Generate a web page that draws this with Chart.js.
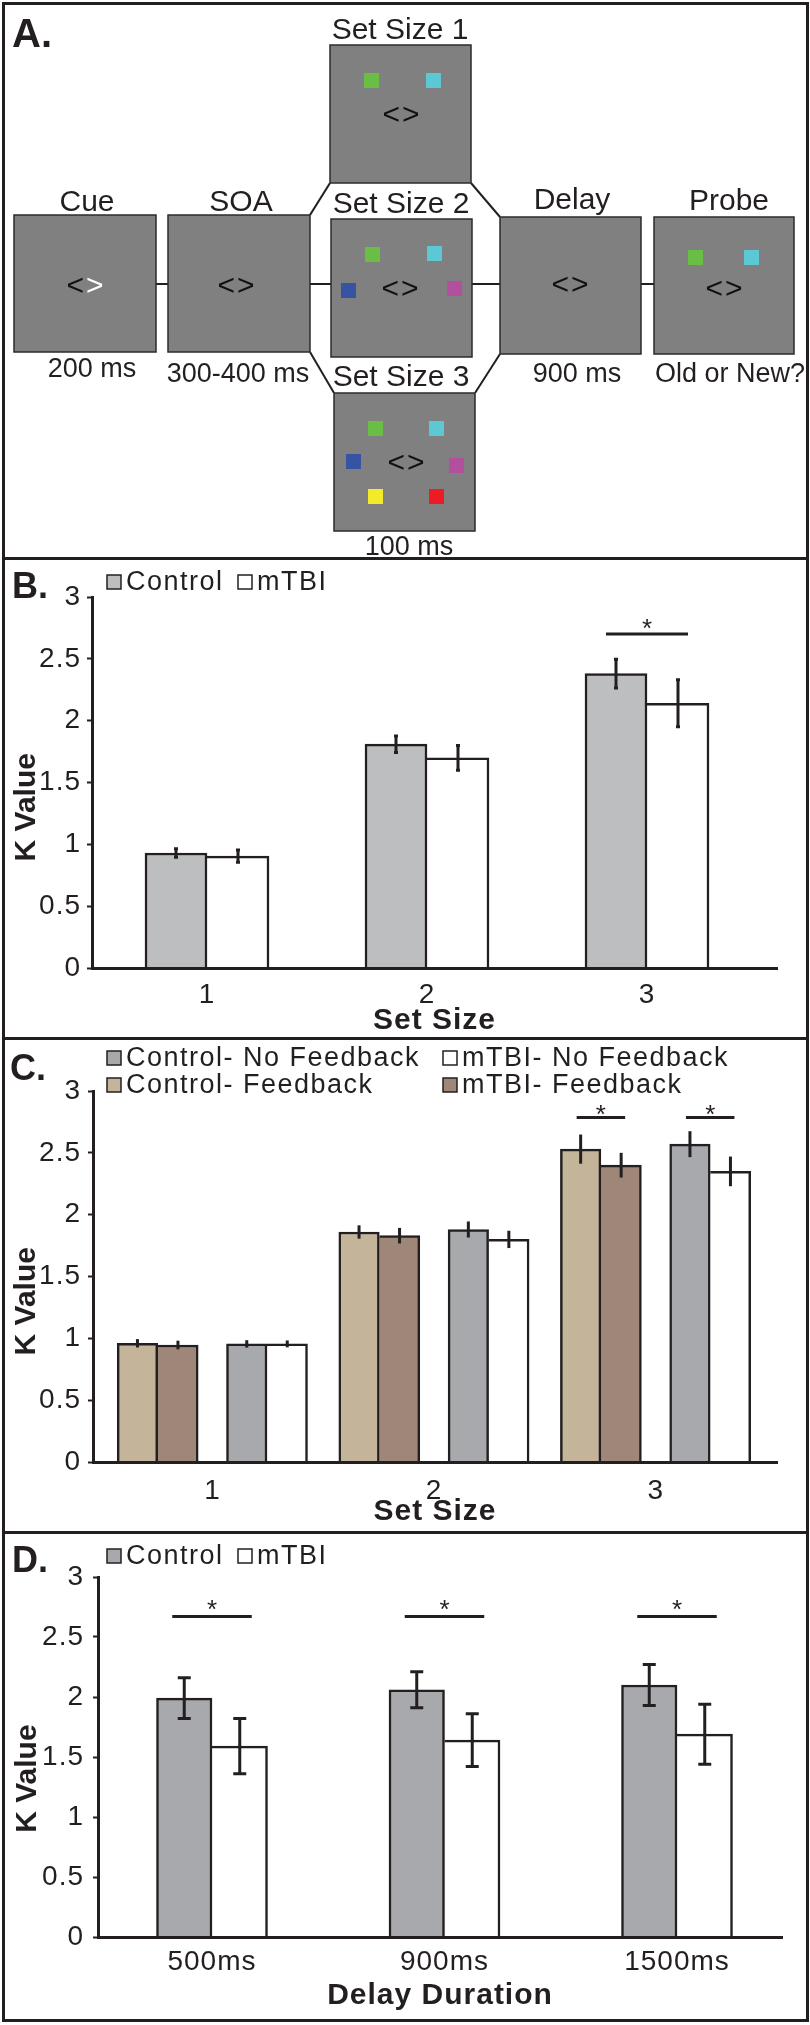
<!DOCTYPE html>
<html>
<head>
<meta charset="utf-8">
<script src="https://cdn.jsdelivr.net/npm/chart.js@4.4.1/dist/chart.umd.min.js"></script>
<style>
  html, body { margin: 0; padding: 0; background: #fff; }
  #page { position: relative; width: 810px; height: 2025px; overflow: hidden; background: #fff; }
  canvas { position: absolute; left: 0; }
  .frame { position: absolute; border: 3px solid #231f20; box-sizing: border-box; }
  .rule { position: absolute; left: 3px; width: 804px; height: 3px; background: #231f20; }
</style>
</head>
<body>
<div id="page">
  <canvas id="panelA" width="810" height="559" style="top:0"></canvas>
  <canvas id="panelB" width="810" height="480" style="top:559px"></canvas>
  <canvas id="panelC" width="810" height="494" style="top:1039px"></canvas>
  <canvas id="panelD" width="810" height="487" style="top:1533px"></canvas>
  <div class="frame" style="left:2px;top:2px;width:807px;height:2020px"></div>
  <div class="rule" style="top:557px"></div>
  <div class="rule" style="top:1037px"></div>
  <div class="rule" style="top:1531px"></div>
</div>
<script>
// ---- data ----
var setSizes = ['1', '2', '3'];
var delayLabels = ['500ms', '900ms', '1500ms'];
var kMin = 0, kMax = 3, kStep = 0.5;

// B. set size, control vs mTBI
var bControl = [0.93, 1.81, 2.38];
var bControlErr = [0.035, 0.067, 0.116];
var bMtbi = [0.905, 1.70, 2.14];
var bMtbiErr = [0.05, 0.10, 0.19];
var bSig = [{index: 2, y: 2.70, pair: [0, 1]}];

// C. set size with / without feedback
var cCtrlNoFb = [0.955, 1.88, 2.57];
var cCtrlNoFbErr = [0.03, 0.065, 0.105];
var cMtbiNoFb = [0.955, 1.80, 2.35];
var cMtbiNoFbErr = [0.028, 0.07, 0.12];
var cCtrlFb = [0.96, 1.86, 2.53];
var cCtrlFbErr = [0.034, 0.054, 0.118];
var cMtbiFb = [0.946, 1.83, 2.40];
var cMtbiFbErr = [0.035, 0.063, 0.10];
var cSig = [{index: 2, y: 2.785, pair: [2, 3]}, {index: 2, y: 2.785, pair: [0, 1]}];

// D. delay duration
var dControl = [1.99, 2.06, 2.10];
var dControlErr = [0.17, 0.15, 0.17];
var dMtbi = [1.59, 1.64, 1.69];
var dMtbiErr = [0.23, 0.22, 0.25];
var dSig = [{index: 0, y: 2.67, pair: [0, 1]}, {index: 1, y: 2.67, pair: [0, 1]}, {index: 2, y: 2.67, pair: [0, 1]}];

var ink = '#231f20';
var fam = "'Liberation Sans', Arial, sans-serif";
Chart.defaults.font.family = fam;
Chart.defaults.color = ink;

// ---- panel A: task schematic ----
function drawPanelA() {
  var ctx = document.getElementById('panelA').getContext('2d');
  ctx.strokeStyle = ink;
  ctx.lineWidth = 2;
  var segs = [[156, 284, 168, 284], [310, 284, 331, 284], [472, 284, 500, 284], [641, 284, 654, 284],
              [310, 215, 330, 183], [471, 183, 500, 217], [310, 352, 334, 393], [500, 354, 475, 393]];
  segs.forEach(function(s) {
    ctx.beginPath(); ctx.moveTo(s[0], s[1]); ctx.lineTo(s[2], s[3]); ctx.stroke();
  });

  var boxes = [[14, 215, 142, 137], [168, 215, 142, 137], [330, 45, 141, 138], [331, 219, 141, 138],
               [334, 393, 141, 138], [500, 217, 141, 137], [654, 217, 140, 137]];
  boxes.forEach(function(b) {
    ctx.fillStyle = '#808080';
    ctx.fillRect(b[0], b[1], b[2], b[3]);
    ctx.strokeStyle = '#2b2b2b';
    ctx.lineWidth = 1.5;
    ctx.strokeRect(b[0], b[1], b[2], b[3]);
  });

  var green = '#6abd45', cyan = '#5cc8d6', blue = '#3953a4', magenta = '#b24f9f', yellow = '#f3eb2a', red = '#ed1c24';
  var squares = [[364, 73, green], [426, 73, cyan],
                 [365, 247, green], [427, 246, cyan], [341, 283, blue], [447, 281, magenta],
                 [368, 421, green], [429, 421, cyan], [346, 454, blue], [449, 458, magenta], [368, 489, yellow], [429, 489, red],
                 [688, 250, green], [744, 250, cyan]];
  squares.forEach(function(s) {
    ctx.fillStyle = s[2];
    ctx.fillRect(s[0], s[1], 15, 15);
  });

  ctx.font = '30px ' + fam;
  ctx.textBaseline = 'middle';
  var chevrons = [[85, 287, true], [236, 287], [401, 116], [400, 290], [406, 464], [570, 286], [724, 290]];
  chevrons.forEach(function(c) {
    ctx.fillStyle = '#111';
    ctx.textAlign = 'right';
    ctx.fillText('<', c[0] - 1, c[1]);
    ctx.fillStyle = c[2] ? '#ffffff' : '#111';
    ctx.textAlign = 'left';
    ctx.fillText('>', c[0] + 1, c[1]);
  });

  ctx.fillStyle = ink;
  ctx.textAlign = 'center';
  ctx.textBaseline = 'alphabetic';
  ctx.font = '30px ' + fam;
  [['Cue', 87, 211], ['SOA', 241, 211], ['Set Size 1', 400, 39], ['Set Size 2', 401, 213],
   ['Set Size 3', 401, 386], ['Delay', 572, 209], ['Probe', 729, 210]].forEach(function(t) {
    ctx.fillText(t[0], t[1], t[2]);
  });
  ctx.font = '27px ' + fam;
  [['200 ms', 92, 377], ['300-400 ms', 238, 382], ['100 ms', 409, 555],
   ['900 ms', 577, 382], ['Old or New?', 730, 382]].forEach(function(t) {
    ctx.fillText(t[0], t[1], t[2]);
  });
  ctx.textAlign = 'left';
  ctx.font = 'bold 40px ' + fam;
  ctx.fillText('A.', 12, 47);
}
drawPanelA();

// ---- plugins for panels B-D ----
// the figure's lettering is a little wider than Arial
var wideText = {
  id: 'wideText',
  beforeDraw: function(chart) { chart.ctx.letterSpacing = '1px'; }
};

var errorBars = {
  id: 'errorBars',
  afterDatasetsDraw: function(chart, args, opts) {
    var ctx = chart.ctx, y = chart.scales.y;
    ctx.save();
    ctx.strokeStyle = ink;
    ctx.lineWidth = opts.width;
    chart.data.datasets.forEach(function(ds, i) {
      if (!ds.errors) return;
      chart.getDatasetMeta(i).data.forEach(function(bar, j) {
        var v = ds.data[j].y, e = ds.errors[j];
        var top = y.getPixelForValue(v + e), bot = y.getPixelForValue(v - e);
        ctx.beginPath();
        ctx.moveTo(bar.x, top);
        ctx.lineTo(bar.x, bot);
        if (opts.cap) {
          ctx.moveTo(bar.x - opts.cap / 2, top); ctx.lineTo(bar.x + opts.cap / 2, top);
          ctx.moveTo(bar.x - opts.cap / 2, bot); ctx.lineTo(bar.x + opts.cap / 2, bot);
        }
        ctx.stroke();
      });
    });
    ctx.restore();
  }
};

var sigMarks = {
  id: 'sigMarks',
  afterDatasetsDraw: function(chart, args, opts) {
    var ctx = chart.ctx, y = chart.scales.y;
    ctx.save();
    ctx.strokeStyle = ink;
    ctx.fillStyle = ink;
    ctx.lineWidth = 3;
    ctx.letterSpacing = '0px';
    ctx.font = '26px ' + fam;
    ctx.textAlign = 'center';
    ctx.textBaseline = 'alphabetic';
    opts.marks.forEach(function(m) {
      var a = chart.getDatasetMeta(m.pair[0]).data[m.index];
      var b = chart.getDatasetMeta(m.pair[1]).data[m.index];
      var x1 = a.x - opts.ext, x2 = b.x + opts.ext, py = y.getPixelForValue(m.y);
      ctx.beginPath();
      ctx.moveTo(x1, py);
      ctx.lineTo(x2, py);
      ctx.stroke();
      ctx.fillText('*', (x1 + x2) / 2, py - opts.lift + 15);
    });
    ctx.restore();
  }
};

var boxLegend = {
  id: 'boxLegend',
  afterDraw: function(chart, args, opts) {
    var ctx = chart.ctx;
    ctx.save();
    ctx.letterSpacing = '1.5px';
    ctx.font = opts.size + 'px ' + fam;
    ctx.textAlign = 'left';
    ctx.textBaseline = 'alphabetic';
    opts.items.forEach(function(it) {
      var ds = chart.data.datasets[it.ds];
      var bx = it.x, by = it.y - opts.box - 1;
      ctx.fillStyle = ds.backgroundColor;
      ctx.fillRect(bx, by, opts.box, opts.box);
      ctx.strokeStyle = ink;
      ctx.lineWidth = 1.5;
      ctx.strokeRect(bx, by, opts.box, opts.box);
      ctx.fillStyle = ink;
      ctx.fillText(ds.label, bx + opts.box + 5, it.y);
    });
    ctx.restore();
  }
};

var panelText = {
  id: 'panelText',
  afterDraw: function(chart, args, opts) {
    var ctx = chart.ctx;
    var cy = chart.scales.y.getPixelForValue(opts.titleAt);
    ctx.save();
    ctx.letterSpacing = '0px';
    ctx.fillStyle = ink;
    ctx.textBaseline = 'alphabetic';
    ctx.textAlign = 'left';
    ctx.font = 'bold 36px ' + fam;
    ctx.fillText(opts.letter, opts.letterX, opts.letterY);
    ctx.translate(opts.titleX, cy);
    ctx.rotate(-Math.PI / 2);
    ctx.font = 'bold 30px ' + fam;
    ctx.textAlign = 'center';
    ctx.textBaseline = 'middle';
    ctx.fillText('K Value', 0, 0);
    ctx.restore();
  }
};

// x = category position (1, 2, 3) plus an optional sideways shift in axis units
function points(values, shift) {
  return values.map(function(v, i) { return {x: i + 1 + (shift || 0), y: v}; });
}

function barSet(label, values, errs, color, thick, rightOfPair, shift) {
  return {
    label: label,
    data: points(values, shift),
    errors: errs,
    backgroundColor: color,
    borderColor: ink,
    borderWidth: rightOfPair ? {top: 2.5, right: 2.5, bottom: 0, left: 0} : 2.5,
    borderSkipped: 'bottom',
    barThickness: thick,
    grouped: shift === undefined
  };
}

// linear range so that x = 1, 2, 3 land on the wanted group centres
function range(lay) {
  var min = 1 - (lay.first - lay.left) / lay.step;
  return {min: min, max: min + (lay.right - lay.left) / lay.step};
}

function makePanel(id, lay, labels, datasets, xTitle, plugOpts) {
  var r = range(lay);
  return new Chart(document.getElementById(id), {
    type: 'bar',
    data: { datasets: datasets },
    options: {
      responsive: false,
      animation: false,
      events: [],
      devicePixelRatio: 1,
      layout: { padding: {left: 0, top: lay.top, right: 810 - lay.right, bottom: 0} },
      scales: {
        x: {
          type: 'linear', min: r.min, max: r.max, offset: false,
          afterBuildTicks: function(s) { s.ticks = labels.map(function(l, i) { return {value: i + 1}; }); },
          afterFit: function(s) { s.height = lay.xHeight; },
          ticks: { callback: function(v, i) { return labels[i]; }, font: {size: 28}, padding: lay.tickPad, color: ink, autoSkip: false, maxRotation: 0 },
          grid: { display: false, offset: false },
          border: { display: true, width: 3, color: ink, z: 1 },
          title: { display: true, text: xTitle, color: ink, font: {size: 30, weight: 'bold'}, padding: {top: 0, bottom: lay.titlePad} }
        },
        y: {
          min: kMin, max: kMax,
          afterFit: function(s) { s.width = lay.left; },
          ticks: { stepSize: kStep, font: {size: 28}, padding: lay.yPad, color: ink, callback: function(v) { return String(v); } },
          grid: { drawOnChartArea: false, tickLength: 5, tickWidth: 2, tickColor: ink },
          border: { display: true, width: 3, color: ink, z: 1 }
        }
      },
      plugins: {
        legend: { display: false },
        tooltip: { enabled: false },
        errorBars: plugOpts.errorBars,
        sigMarks: plugOpts.sigMarks,
        boxLegend: plugOpts.boxLegend,
        panelText: plugOpts.panelText
      }
    },
    plugins: [wideText, errorBars, sigMarks, boxLegend, panelText]
  });
}

// ---- panel B ----
var layB = {top: 38, left: 92, right: 777, first: 207, step: 220, xHeight: 71, tickPad: 2, titlePad: 0, yPad: 6};
makePanel('panelB', layB, setSizes, [
  barSet('Control', bControl, bControlErr, '#bcbec0', 62, false),
  barSet('mTBI', bMtbi, bMtbiErr, '#ffffff', 62, true)
], 'Set Size', {
  errorBars: {width: 3, cap: 4},
  sigMarks: {marks: bSig, ext: 10, lift: 12},
  boxLegend: {size: 27, box: 14, items: [{x: 107, y: 31, ds: 0}, {x: 238, y: 31, ds: 1}]},
  panelText: {letter: 'B.', letterX: 12, letterY: 39, titleX: 27, titleAt: 1.3}
});

// ---- panel C: two touching pairs per set size, a gap between the pairs ----
var layC = {top: 52, left: 93, right: 777, first: 212.5, step: 221.6, xHeight: 71, tickPad: 4, titlePad: 3, yPad: 7};
var cBar = 40.5, cPairA = -54.8, cPairB = 54.5;
function cShift(px) { return px / layC.step; }
makePanel('panelC', layC, setSizes, [
  barSet('Control- No Feedback', cCtrlNoFb, cCtrlNoFbErr, '#a7a9ac', cBar, false, cShift(cPairB - cBar / 2)),
  barSet('mTBI- No Feedback', cMtbiNoFb, cMtbiNoFbErr, '#ffffff', cBar, true, cShift(cPairB + cBar / 2)),
  barSet('Control- Feedback', cCtrlFb, cCtrlFbErr, '#c4b59a', cBar, false, cShift(cPairA - cBar / 2)),
  barSet('mTBI- Feedback', cMtbiFb, cMtbiFbErr, '#9e8778', cBar, true, cShift(cPairA + cBar / 2))
], 'Set Size', {
  errorBars: {width: 3, cap: 0},
  sigMarks: {marks: cSig, ext: 4, lift: 10},
  boxLegend: {size: 27, box: 14, items: [{x: 107, y: 27, ds: 0}, {x: 443, y: 27, ds: 1}, {x: 107, y: 54, ds: 2}, {x: 443, y: 54, ds: 3}]},
  panelText: {letter: 'C.', letterX: 10, letterY: 41, titleX: 27, titleAt: 1.3}
});

// ---- panel D ----
var layD = {top: 44, left: 98, right: 782, first: 212, step: 232.5, xHeight: 83, tickPad: 0, titlePad: 6, yPad: 9};
makePanel('panelD', layD, delayLabels, [
  barSet('Control', dControl, dControlErr, '#a7a9ac', 55.5, false),
  barSet('mTBI', dMtbi, dMtbiErr, '#ffffff', 55.5, true)
], 'Delay Duration', {
  errorBars: {width: 3, cap: 13},
  sigMarks: {marks: dSig, ext: 12, lift: 14},
  boxLegend: {size: 27, box: 14, items: [{x: 107, y: 31, ds: 0}, {x: 238, y: 31, ds: 1}]},
  panelText: {letter: 'D.', letterX: 12, letterY: 39, titleX: 28, titleAt: 1.32}
});
</script>
</body>
</html>
